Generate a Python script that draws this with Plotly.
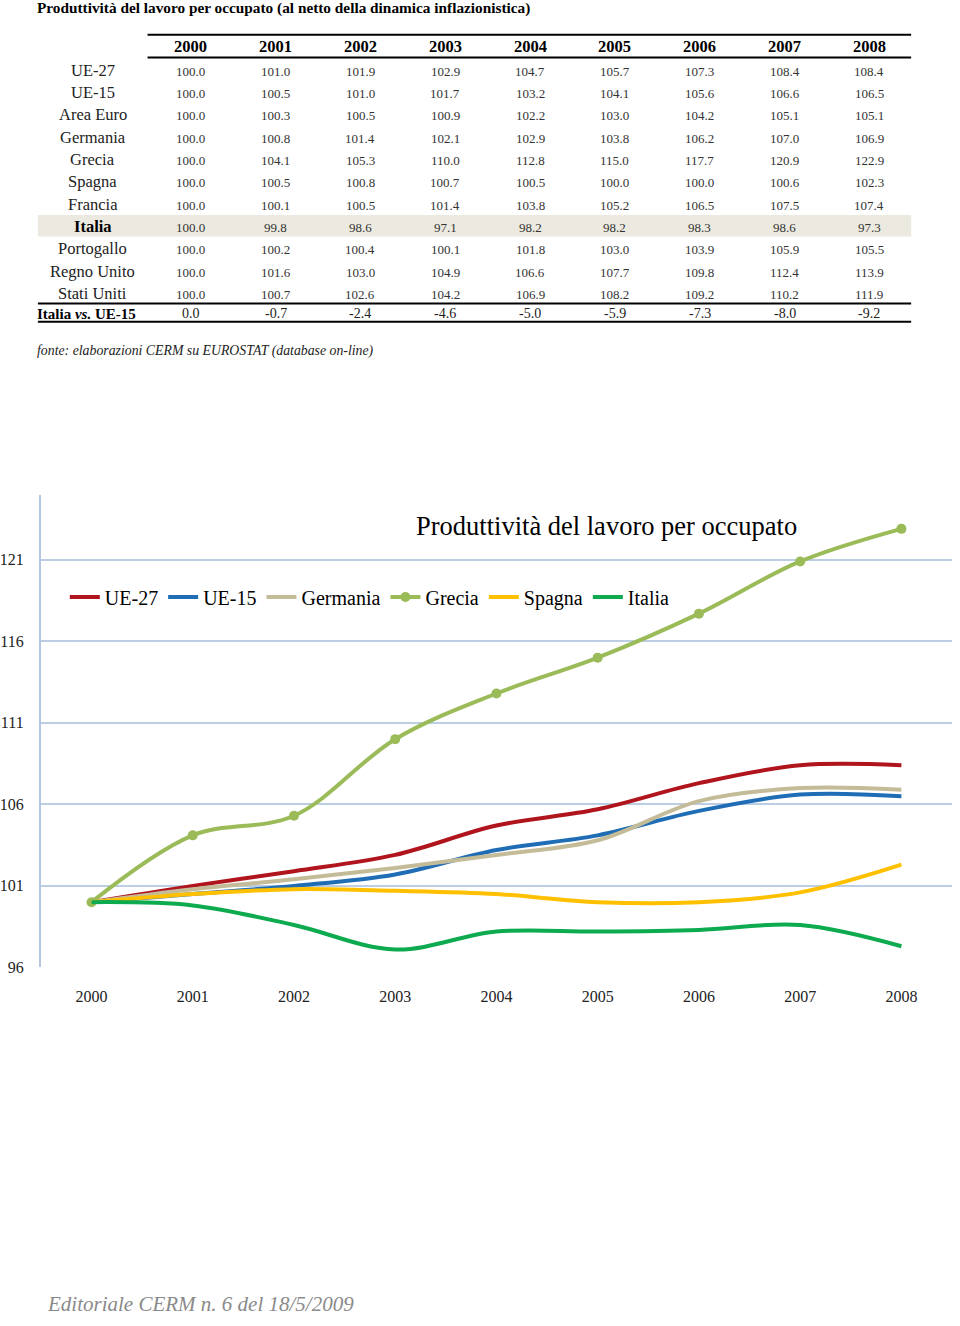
import plotly.graph_objects as go

W, H = 960, 1326

years = ["2000", "2001", "2002", "2003", "2004", "2005", "2006", "2007", "2008"]

# table data
row_names = ["UE-27", "UE-15", "Area Euro", "Germania", "Grecia", "Spagna",
             "Francia", "Italia", "Portogallo", "Regno Unito", "Stati Uniti"]
ue27 = [100.0, 101.0, 101.9, 102.9, 104.7, 105.7, 107.3, 108.4, 108.4]
ue15 = [100.0, 100.5, 101.0, 101.7, 103.2, 104.1, 105.6, 106.6, 106.5]
area_euro = [100.0, 100.3, 100.5, 100.9, 102.2, 103.0, 104.2, 105.1, 105.1]
germania = [100.0, 100.8, 101.4, 102.1, 102.9, 103.8, 106.2, 107.0, 106.9]
grecia = [100.0, 104.1, 105.3, 110.0, 112.8, 115.0, 117.7, 120.9, 122.9]
spagna = [100.0, 100.5, 100.8, 100.7, 100.5, 100.0, 100.0, 100.6, 102.3]
francia = [100.0, 100.1, 100.5, 101.4, 103.8, 105.2, 106.5, 107.5, 107.4]
italia = [100.0, 99.8, 98.6, 97.1, 98.2, 98.2, 98.3, 98.6, 97.3]
portogallo = [100.0, 100.2, 100.4, 100.1, 101.8, 103.0, 103.9, 105.9, 105.5]
regno_unito = [100.0, 101.6, 103.0, 104.9, 106.6, 107.7, 109.8, 112.4, 113.9]
stati_uniti = [100.0, 100.7, 102.6, 104.2, 106.9, 108.2, 109.2, 110.2, 111.9]
italia_vs_ue15 = [0.0, -0.7, -2.4, -4.6, -5.0, -5.9, -7.3, -8.0, -9.2]

table_rows = [ue27, ue15, area_euro, germania, grecia, spagna,
              francia, italia, portogallo, regno_unito, stati_uniti]

# chart series
chart_names = ["UE-27", "UE-15", "Germania", "Grecia", "Spagna", "Italia"]
chart_series = [ue27, ue15, germania, grecia, spagna, italia]
chart_colors = ["#B0141C", "#1F6DB5", "#C4BC99", "#9BBB59", "#FFC000", "#0DAA4F"]

y_ticks = [96, 101, 106, 111, 116, 121]

SERIF = "Liberation Serif"


def xp(x):
    return x / W


def yp(y):
    return 1 - y / H


fig = go.Figure()

for name, vals, col in zip(chart_names, chart_series, chart_colors):
    is_gr = name == "Grecia"
    fig.add_trace(go.Scatter(
        x=years, y=vals, name=name,
        mode="lines+markers" if is_gr else "lines",
        line=dict(color=col, width=4, shape="spline", smoothing=1.0),
        marker=dict(size=10, color=col) if is_gr else None,
    ))

annotations = []
shapes = []

# table title
annotations.append(dict(
    x=xp(32), y=yp(8), xref="paper", yref="paper", xanchor="left", yanchor="middle",
    text="<b>Produttività del lavoro per occupato (al netto della dinamica inflazionistica)</b>",
    showarrow=False, font=dict(family=SERIF, size=15.3, color="#000")))

col_x0 = 188.3
col_dx = 85.1
row_y0 = 70.7
row_dy = 22.5

# Italia highlight
shapes.append(dict(type="rect", xref="paper", yref="paper",
                   x0=xp(35), x1=xp(911), y0=yp(216.5), y1=yp(238),
                   fillcolor="#ECEAE0", line=dict(width=0), layer="below"))

# rules
for (x0, x1, y) in [(145, 911, 35), (145, 911, 58), (35, 911, 305.5), (35, 911, 324)]:
    shapes.append(dict(type="line", xref="paper", yref="paper",
                       x0=xp(x0), x1=xp(x1), y0=yp(y), y1=yp(y),
                       line=dict(color="#000", width=2)))

# header
for j, yr in enumerate(years):
    annotations.append(dict(
        x=xp(col_x0 + j * col_dx), y=yp(47.3), xref="paper", yref="paper",
        xanchor="center", yanchor="middle", text="<b>" + yr + "</b>",
        showarrow=False, font=dict(family=SERIF, size=16.5, color="#000")))

# rows
for i, (nm, vals) in enumerate(zip(row_names, table_rows)):
    ry = row_y0 + i * row_dy
    bold = nm == "Italia"
    annotations.append(dict(
        x=xp(90), y=yp(ry), xref="paper", yref="paper", xanchor="center", yanchor="middle",
        text=("<b>%s</b>" % nm) if bold else nm, showarrow=False,
        font=dict(family=SERIF, size=16.5, color="#000" if bold else "#222")))
    for j, v in enumerate(vals):
        annotations.append(dict(
            x=xp(col_x0 + j * col_dx), y=yp(ry + 1), xref="paper", yref="paper",
            xanchor="center", yanchor="middle", text="%.1f" % v, showarrow=False,
            font=dict(family=SERIF, size=13, color="#333")))

# last row
ly = 315.7
annotations.append(dict(
    x=xp(32), y=yp(ly), xref="paper", yref="paper", xanchor="left", yanchor="middle",
    text="<b>Italia <i>vs.</i> UE-15</b>", showarrow=False,
    font=dict(family=SERIF, size=15, color="#000")))
for j, v in enumerate(italia_vs_ue15):
    annotations.append(dict(
        x=xp(col_x0 + j * col_dx), y=yp(ly), xref="paper", yref="paper",
        xanchor="center", yanchor="middle", text="%.1f" % v, showarrow=False,
        font=dict(family=SERIF, size=14, color="#222")))

# source
annotations.append(dict(
    x=xp(32), y=yp(353), xref="paper", yref="paper", xanchor="left", yanchor="middle",
    text="<i>fonte: elaborazioni CERM su EUROSTAT (database on-line)</i>", showarrow=False,
    font=dict(family=SERIF, size=13.8, color="#222")))

# chart title
annotations.append(dict(
    x=xp(605), y=yp(530), xref="paper", yref="paper", xanchor="center", yanchor="middle",
    text="Produttività del lavoro per occupato", showarrow=False,
    font=dict(family=SERIF, size=26.5, color="#000")))

# footer
annotations.append(dict(
    x=xp(42), y=yp(1313), xref="paper", yref="paper", xanchor="left", yanchor="middle",
    text="<i>Editoriale CERM n. 6 del 18/5/2009</i>", showarrow=False,
    font=dict(family=SERIF, size=21, color="#8a8a8a")))

fig.update_layout(
    width=W, height=H,
    margin=dict(l=0, r=0, t=0, b=0),
    paper_bgcolor="white", plot_bgcolor="white",
    font=dict(family=SERIF, color="#000"),
    showlegend=True,
    legend=dict(orientation="h", x=xp(62), y=yp(601), xanchor="left", yanchor="middle",
                font=dict(family=SERIF, size=20, color="#000"),
                bgcolor="rgba(0,0,0,0)", itemwidth=30, tracegroupgap=0),
    xaxis=dict(domain=[xp(38), xp(952)], type="category", range=[-0.5, 8.5],
               showgrid=False, zeroline=False, showline=False,
               ticks="outside", ticklen=14, tickcolor="rgba(0,0,0,0)",
               tickfont=dict(family=SERIF, size=16, color="#222")),
    yaxis=dict(domain=[yp(974), yp(498)], range=[96, 125],
               tickvals=y_ticks, ticktext=[str(t) for t in y_ticks],
               showgrid=True, gridcolor="#BCCEE4", gridwidth=1.5,
               zeroline=False, showline=True, linecolor="#B4C7E0", linewidth=2,
               ticks="outside", ticklen=12, tickcolor="rgba(0,0,0,0)",
               tickfont=dict(family=SERIF, size=16, color="#222")),
    annotations=annotations, shapes=shapes,
)

fig.write_html(
    "out.html",
    config={"displayModeBar": False, "responsive": False},
    post_script=("document.body.style.margin='0';"
                 "document.body.style.overflow='hidden';"
                 "document.documentElement.style.overflow='hidden';"),
)
